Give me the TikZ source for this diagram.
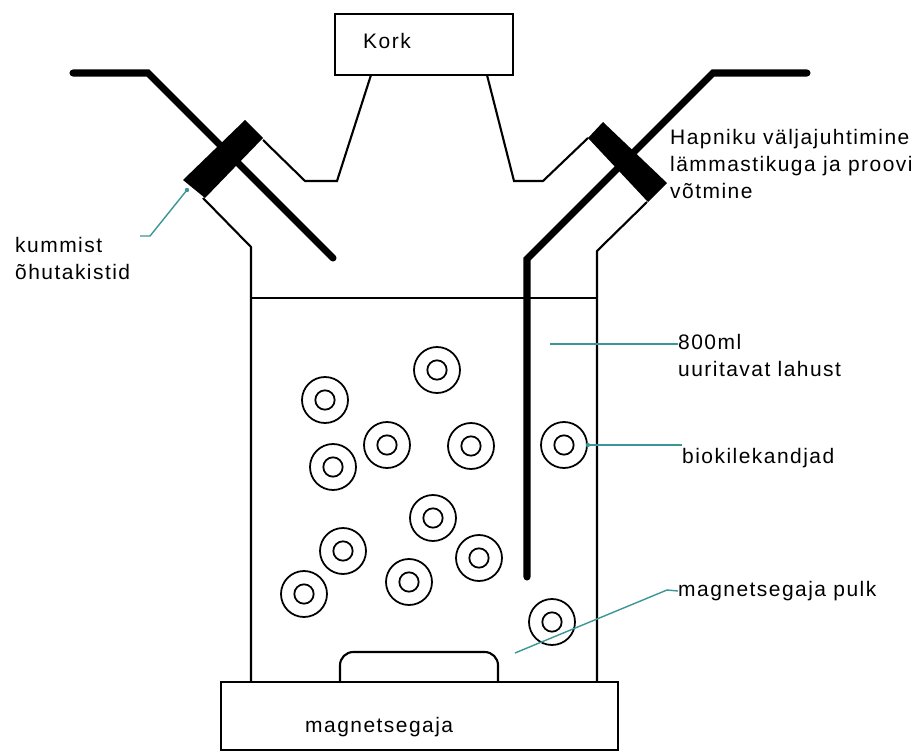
\documentclass[tikz,border=0pt]{standalone}
\usepackage{fontspec}
\setmainfont[LetterSpace=7]{Liberation Sans}
\definecolor{leadercol}{RGB}{60,150,150}

\begin{document}
\begin{tikzpicture}[
       x=0.3mm,
       y=-0.3mm,
       wall/.style={
         line width=1.8pt
       },
       tube/.style={
         line width=6pt,
         line cap=round
       },
       ring/.style={
         circle,
         draw,
         line width=1.5pt,
         inner sep=0pt,
         minimum size=13.8mm,
         path picture={\draw[line width=1.5pt] (path picture bounding box.center) circle[radius=2.9mm];}
       },
       lbl/.style={
         font=\fontsize{17.9}{23}\selectfont,
         inner sep=0pt,
         align=left
       },
       leader/.style={
         leadercol,
         line width=1.2pt
       }
     ]

       \fill[white] (0,0) rectangle (924,752);

       % kork and neck
       \draw[wall] (335,14) rectangle (513,75);
       \node (kork) at (363,49) [lbl, anchor=base west]{Kork};

       \draw[wall] (371,75) -- (337,181) -- (305,181) -- (263,140);
       \draw[wall] (487,75) -- (514,181) -- (543,181) -- (588,138);

       % side arms and vessel walls
       \draw[wall] (203,198) -- (251,247) -- (251,682);
       \draw[wall] (647,202) -- (597,251) -- (597,682);
       \draw[line width=1pt] (251,298) -- (597,298);

       % tubes
       \draw[tube] (73,73) -- (148,73) -- (333,258);
       \draw[tube] (807,73) -- (713,73) -- (527,259) -- (527,577);

       % rubber stoppers
       \fill (245,120) -- (263,138) -- (205,198) -- (183,180) -- cycle;
       \fill (603,122) -- (667,183) -- (648,202) -- (588,138) -- cycle;

       % stirrer and stir bar
       \draw[wall] (221,682) rectangle (618,750);
       \node (segaja) at (305,732) [lbl, anchor=base west]{magnetsegaja};
       \draw[wall, rounded corners=4mm] (340,682) -- (340,652) -- (498,652) -- (498,682);

       % carriers
       \node (r1) at (437,370) [ring]{};
       \node (r2) at (325,400) [ring]{};
       \node (r3) at (387,445) [ring]{};
       \node (r4) at (471,446) [ring]{};
       \node (r5) at (564,445) [ring]{};
       \node (r6) at (333,467) [ring]{};
       \node (r7) at (433,518) [ring]{};
       \node (r8) at (343,551) [ring]{};
       \node (r9) at (479,558) [ring]{};
       \node (r10) at (409,582) [ring]{};
       \node (r11) at (304,594) [ring]{};
       \node (r12) at (552,622) [ring]{};

       % labels
       \node (kummist) at (15,237.5) [lbl, anchor=north west]{kummist\\õhutakistid};
       \node (hapnik) at (670,129.5) [lbl, anchor=north west]{Hapniku väljajuhtimine\\lämmastikuga ja proovi\\võtmine};
       \node (lahus) at (678,334.5) [lbl, anchor=north west]{800ml\\uuritavat lahust};
       \node (bio) at (682,463) [lbl, anchor=base west]{biokilekandjad};
       \node (pulk) at (678,591) [lbl, anchor=west]{magnetsegaja pulk};

       \coordinate (k1) at (140,236);
       \coordinate (k2) at (187,190);
       \coordinate (l1) at (550,344);
       \coordinate (p1) at (515,653);

       \draw[leader] (k1) -- ++(10,0) -- (k2);
       \fill[leadercol] (k2) circle (2.2);
       \draw[leader] (l1) -- (l1 -| lahus.west);
       \draw[leader] (r5.east) -- (r5.east -| bio.west);
       \fill[leadercol] (r5.east) circle (2.2);
       \draw[leader] (p1) -- ++(152,-63) -- (pulk.west);

\end{tikzpicture}
\end{document}
